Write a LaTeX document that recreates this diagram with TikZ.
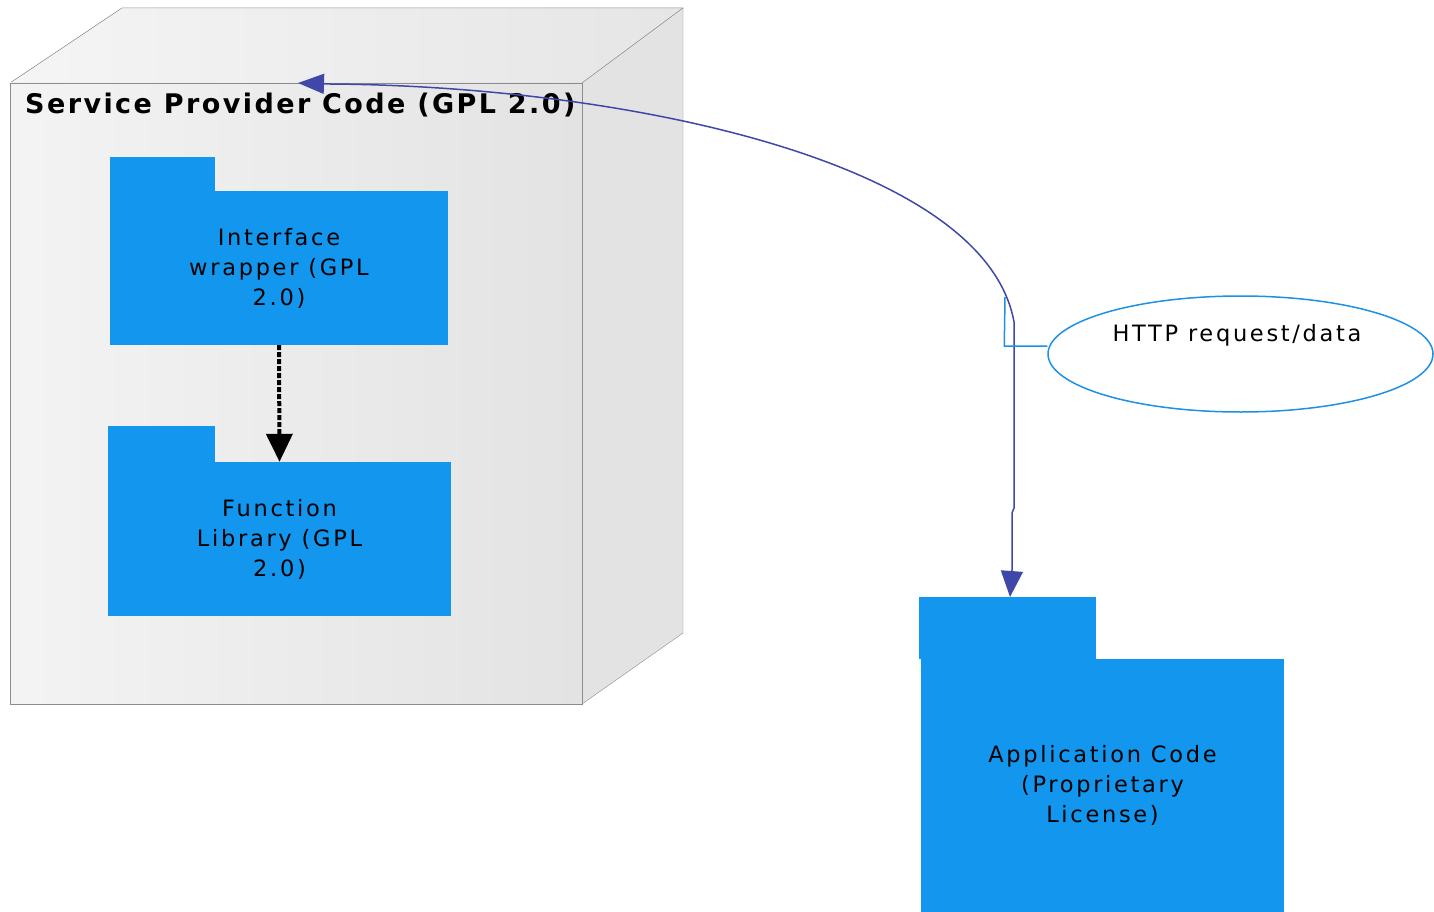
\documentclass[tikz,border=0pt]{standalone}
\usepackage{fontspec}
\setmainfont{DejaVu Sans}[LetterSpace=12]
\newfontfamily\titlefont{DejaVu Sans Bold}[LetterSpace=9]
\usetikzlibrary{arrows.meta,shapes.geometric}
\definecolor{folderblue}{RGB}{18,150,238}
\definecolor{connblue}{RGB}{63,72,168}
\definecolor{noteblue}{RGB}{30,144,230}
\definecolor{boxline}{RGB}{140,140,140}
\tikzset{
  folderbody/.style={fill=folderblue, draw=none, inner sep=0pt, align=center,
    font=\fontsize{22.5}{30}\selectfont, text=black},
  foldertab/.style={fill=folderblue, draw=none, inner sep=0pt},
  depend/.style={line width=4pt, dash pattern=on 5pt off 2pt, black,
    -{Triangle[length=28pt,width=26pt]}},
  conn/.style={connblue, line width=1.5pt,
    {Triangle[length=26pt,width=20pt]}-{Triangle[length=26pt,width=22pt]}},
  notestyle/.style={ellipse, draw=noteblue, line width=1.5pt, inner sep=0pt},
  noteline/.style={noteblue, line width=1.5pt},
}
\begin{document}
\begin{tikzpicture}[x=1pt,y=-1pt]
\useasboundingbox (0,0) rectangle (1434,912);
% container box
\fill[left color=gray!8, right color=gray!20, draw=boxline] (10,83) -- (122,8) -- (683,8) -- (582,83) -- cycle;
\fill[gray!22, draw=boxline] (582,83) -- (683,8) -- (683,633) -- (582,704) -- cycle;
\node[draw=boxline, left color=gray!9, right color=gray!22, minimum width=572pt, minimum height=621pt, inner sep=0pt] (spc) at (296,393.5) {};
\node[anchor=base west, font=\titlefont\fontsize{27}{30}\selectfont, inner sep=0pt] (spctitle) at (25,114) {Service Provider Code (GPL 2.0)};
% folders
\node[folderbody, minimum width=338pt, minimum height=154pt] (iw) at (279,268) {Interface\\wrapper (GPL\\2.0)};
\node[foldertab, anchor=south west, minimum width=105pt, minimum height=34pt] (iwtab) at (iw.north west) {};
\node[folderbody, minimum width=343pt, minimum height=154pt] (fl) at (279.5,539) {Function\\Library (GPL\\2.0)};
\node[foldertab, anchor=south west, minimum width=107pt, minimum height=36pt] (fltab) at (fl.north west) {};
\node[folderbody, minimum width=363pt, minimum height=253pt] (app) at (1102.5,785.5) {Application Code\\(Proprietary\\License)};
\node[foldertab, anchor=south west, minimum width=177pt, minimum height=62pt] (apptab) at ([xshift=-2pt]app.north west) {};
% dependency
\draw[depend] (iw.south) -- (fl.north);
% connector
\coordinate (hend) at (298,83);
\coordinate (abot) at (1010,597);
\draw[conn] (hend) -- (330,84) .. controls (620,86) and (985,160) .. (1014,322) -- (1014,508) -- (1012,513) -- (1012,570) -- (abot);
% note
\node[notestyle, minimum width=385pt, minimum height=116pt] (note) at (1240.5,354) {};
\node[font=\fontsize{22.5}{30}\selectfont, anchor=base] (notetext) at (1237,341) {HTTP request/data};
\coordinate (nc) at (1005,297);
\draw[noteline] ([yshift=8pt]note.west) -- ++(-43,0) -- (nc);
\end{tikzpicture}
\end{document}
